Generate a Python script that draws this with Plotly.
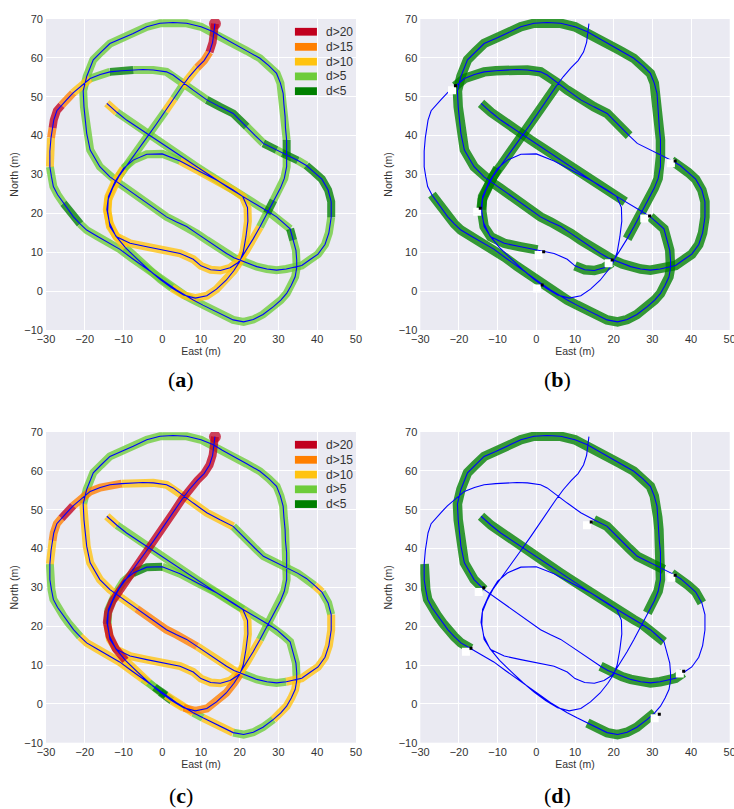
import plotly.graph_objects as go

# ---------------- data (East, North in metres), in driving order ----------------
seg_start_diag = [(13.6, 68.8), (13.4, 66.5), (13.0, 64.0), (12.2, 61.5), (10.8, 59.3), (9.0, 57.5),
                  (7.0, 55.2), (5.0, 52.5), (3.0, 49.5), (0.8, 46.3), (-1.5, 43.0), (-4.0, 39.5),
                  (-6.5, 36.0), (-9.0, 32.5), (-11.2, 29.5), (-12.8, 26.5), (-14.0, 23.5), (-14.3, 21.0)]
seg_south_run = [(-14.3, 21.0), (-13.6, 17.5), (-12.0, 14.2), (-9.5, 11.2), (-6.5, 8.3), (-3.5, 5.5),
                 (-0.5, 3.0), (2.5, 0.8), (5.5, -1.0), (8.5, -1.8), (11.5, -1.2), (14.0, 0.5),
                 (16.5, 2.8), (18.5, 5.3), (20.0, 7.6)]
seg_inner_loop = [(20.0, 7.6), (20.9, 10.0), (21.6, 14.0), (22.1, 18.0), (22.0, 21.5), (20.8, 24.3),
                  (18.3, 26.0), (14.0, 28.6), (9.7, 30.8), (4.6, 33.5), (0.0, 35.3), (-4.0, 35.2),
                  (-7.5, 33.7), (-10.0, 31.6), (-12.2, 28.1), (-13.9, 24.3), (-14.1, 20.5), (-13.5, 16.6),
                  (-11.8, 14.0), (-8.3, 12.3), (-4.0, 11.4), (0.3, 10.6), (4.6, 9.7), (8.0, 8.2),
                  (10.0, 6.5), (12.5, 5.5), (15.0, 5.3), (17.5, 6.0), (19.5, 7.3), (20.2, 8.2)]
seg_northeast_run = [(20.2, 8.2), (21.7, 10.5), (23.5, 13.5), (25.2, 16.5), (27.0, 20.0), (28.7, 23.4),
                     (30.5, 26.5), (31.5, 29.0), (32.1, 32.0), (32.1, 34.6)]
seg_outer_loop = [(32.1, 34.6), (32.1, 38.9), (31.8, 42.0), (31.7, 44.9), (31.4, 48.0), (31.2, 50.9),
                  (30.5, 53.5), (29.5, 56.0), (27.5, 58.0), (25.2, 59.9), (21.8, 61.8), (18.3, 63.7),
                  (15.5, 65.3), (13.2, 66.7), (10.0, 68.0), (6.3, 68.9), (2.8, 69.1), (-0.6, 68.9),
                  (-4.0, 68.0), (-7.5, 66.3), (-10.5, 65.0), (-13.5, 63.7), (-15.8, 61.5), (-17.8, 59.5),
                  (-19.5, 55.2), (-20.4, 51.5), (-20.2, 47.4), (-19.8, 44.0), (-19.5, 40.6), (-18.6, 36.3),
                  (-16.1, 32.0), (-13.5, 29.4)]
seg_middle_diag = [(-13.5, 29.4), (-11.5, 28.0), (-9.2, 26.4), (-6.6, 24.5), (-4.0, 22.6), (-1.5, 20.8),
                   (1.1, 19.1), (3.7, 17.8), (6.3, 16.6), (9.0, 14.8), (11.5, 13.1), (14.0, 11.4),
                   (16.6, 9.7), (18.5, 8.6), (20.0, 8.0), (22.2, 7.0), (24.4, 6.3), (27.0, 5.7),
                   (29.5, 5.4), (32.0, 5.7), (34.0, 6.1), (36.0, 6.6), (38.0, 8.0), (40.2, 9.5),
                   (42.0, 12.0), (43.0, 15.0), (43.6, 19.0), (43.6, 23.0), (42.8, 26.0), (41.2, 28.8),
                   (39.3, 30.5), (37.2, 32.3), (35.0, 33.6), (33.0, 34.6), (31.0, 35.5), (29.5, 36.3),
                   (27.6, 37.3), (26.1, 38.0), (24.0, 40.0), (21.8, 42.3), (18.3, 45.7), (14.9, 47.4)]
seg_upper_west = [(14.9, 47.4), (11.5, 49.2), (8.0, 51.7), (6.3, 53.0), (4.6, 54.3), (2.8, 55.6),
                  (1.1, 56.4), (-2.3, 56.9), (-5.0, 57.0), (-7.5, 56.9), (-10.5, 56.7), (-13.5, 56.4),
                  (-16.0, 55.7), (-18.6, 54.7), (-21.0, 52.7), (-23.0, 51.0), (-24.7, 49.2), (-26.0, 47.8),
                  (-27.2, 46.4), (-28.0, 44.0), (-28.3, 42.0), (-28.7, 39.5), (-29.0, 36.0), (-29.0, 32.0),
                  (-28.6, 29.5), (-28.1, 26.9), (-27.0, 24.8), (-25.5, 22.6), (-24.2, 20.8), (-22.9, 19.1),
                  (-21.2, 17.3), (-19.5, 15.7), (-16.9, 14.2)]
seg_final = [(-16.9, 14.2), (-14.0, 12.6), (-11.0, 10.8), (-8.0, 8.6), (-5.0, 6.4), (-2.0, 4.3),
             (1.0, 2.2), (3.7, 0.3), (6.0, -1.2), (8.0, -2.3), (10.5, -3.6), (13.2, -4.9),
             (15.8, -6.3), (18.3, -7.4), (21.0, -7.9), (23.5, -7.3), (26.0, -6.0), (28.7, -4.0),
             (30.6, -2.3), (32.1, -0.6), (33.3, 1.5), (34.3, 3.7), (34.7, 6.0), (34.7, 8.0),
             (34.5, 10.5), (33.8, 13.1), (33.0, 16.0), (31.2, 17.6), (29.5, 19.1), (27.3, 20.5),
             (25.2, 21.7), (23.0, 23.0), (20.9, 24.3), (18.7, 25.6), (16.6, 26.9), (14.0, 28.6),
             (11.5, 30.3), (8.9, 32.0), (6.3, 33.7), (3.7, 35.5), (1.1, 37.2), (-1.5, 38.9),
             (-4.0, 40.6), (-6.6, 42.3), (-9.2, 44.0), (-11.7, 46.0), (-14.3, 48.3)]

segments = [seg_start_diag, seg_south_run, seg_inner_loop, seg_northeast_run,
            seg_outer_loop, seg_middle_diag, seg_upper_west, seg_final]

# class of each stretch between consecutive points (R:d>20 O:d>15 Y:d>10 G:d>5 D:d<5 -:none)
class_a = ["RRROOYYGYGGGGGYYY",
           "YYYGGGGYYYYYYY",
           "YYYYYYYYY" + "GGGG" + "Y" * 16,
           "YYYGDGGGG",
           "D" + "G" * 30,
           "G" * 26 + "DDDDD" + "G" + "DD" + "G" + "DD" + "GG" + "DD",
           "DGGGGGGGGDDGGYYOORRROYYGGGGDDDGG",
           "G" * 25 + "D" + "G" * 19 + "Y"]
class_b = ["-" * 7 + "D" * 10,
           "-" * 14,
           "-" * 13 + "D" * 8 + "---" + "DDDD" + "-",
           "--" + "D" * 7,
           "D" * 31,
           "D" * 32 + "-" * 6 + "DDD",
           "D" * 14 + "-" * 12 + "D" * 6,
           "D" * 28 + "---" + "D" * 15]
class_c = ["R" * 17,
           "RRRYYGDYOOOOOO",
           "YYYYY" + "GGGGG" + "DD" + "GGGG" + "Y" * 13,
           "YYYGGGGGG",
           "G" * 25 + "Y" * 6,
           "YYYOOOOOOYYYYYGGGGGYYYYYYYYGGY" + "G" * 10 + "Y",
           "Y" * 10 + "O" * 5 + "RR" + "OOO" + "YY" + "G" * 8 + "YY",
           "YYYYGDYYYGYYYGGGGYYYYY" + "G" * 23 + "Y"]
class_d = ["-" * 17,
           "-" * 14,
           "-" * 29,
           "-----DDDD",
           "D" * 31,
           "-" * 12 + "D" * 10 + "-" * 6 + "D" * 4 + "-" + "D" * 8,
           "-" * 22 + "D" * 10,
           "-" * 11 + "D" * 7 + "-" * 8 + "D" * 20]

start_point = (13.6, 68.8)

gap_marks_b = [(-21.8, 51.7), (-15.3, 20.4), (0.6, 9.3), (18.7, 7.2), (0.2, 0.7), (27.9, 18.7), (34.8, 32.9)]
gap_ends_b = [(-20.9, 52.8), (-14.5, 21.3), (1.9, 10.1), (19.6, 8.0), (1.5, 1.6), (29.3, 19.3), (35.9, 33.5)]
gap_marks_d = [(13.1, 46.0), (-14.9, 28.8), (-18.2, 13.4), (37.1, 7.8), (30.6, -3.7), (34.9, 32.5)]
gap_ends_d = [(14.2, 46.8), (-13.6, 29.9), (-16.9, 14.3), (38.1, 8.4), (31.8, -2.7), (35.9, 33.1)]

legend_labels = ["d>20", "d>15", "d>10", "d>5", "d<5"]
legend_codes = ["R", "O", "Y", "G", "D"]
x_ticks = [-30, -20, -10, 0, 10, 20, 30, 40, 50]
y_ticks = [-10, 0, 10, 20, 30, 40, 50, 60, 70]
captions = ["a", "b", "c", "d"]

# ---------------- styling ----------------
COLORS = {"R": (193, 0, 30), "O": (255, 127, 0), "Y": (255, 195, 15), "G": (109, 204, 58), "D": (0, 128, 0)}
BG = "#EAEAF2"
TXT = "#333333"


def rgba(code, a):
    r, g, b = COLORS[code]
    return f"rgba({r},{g},{b},{a})"


def intervals(classes):
    out = []
    for seg, cls in zip(segments, classes):
        for j in range(len(seg) - 1):
            c = cls[j] if j < len(cls) else "-"
            out.append((seg[j], seg[j + 1], c))
    return out


def runs(ivs, code):
    xs, ys = [], []
    last_end = None
    for p0, p1, c in ivs:
        if c == code:
            if last_end != p0:
                if xs:
                    xs.append(None)
                    ys.append(None)
                xs.append(p0[0])
                ys.append(p0[1])
            xs.append(p1[0])
            ys.append(p1[1])
            last_end = p1
        else:
            last_end = None
    return xs, ys


path = []
for seg in segments:
    for p in seg:
        if not path or path[-1] != p:
            path.append(p)
path_x = [p[0] for p in path]
path_y = [p[1] for p in path]

fig = go.Figure()

panels = [("x", "y", class_a, 8, True, None, None),
          ("x2", "y2", class_b, 9.5, False, gap_marks_b, gap_ends_b),
          ("x3", "y3", class_c, 8, True, None, None),
          ("x4", "y4", class_d, 9.5, False, gap_marks_d, gap_ends_d)]

for xa, ya, cls, w, is_dist, marks, ends in panels:
    ivs = intervals(cls)
    for code in ["G", "D", "Y", "O", "R"]:
        xs, ys = runs(ivs, code)
        if not xs:
            continue
        fig.add_trace(go.Scatter(x=xs, y=ys, mode="lines", xaxis=xa, yaxis=ya,
                                 line=dict(color=rgba(code, 0.78), width=w),
                                 hoverinfo="skip", showlegend=False))
    if is_dist:
        fig.add_trace(go.Scatter(x=[start_point[0]], y=[start_point[1]], mode="markers",
                                 xaxis=xa, yaxis=ya, hoverinfo="skip", showlegend=False,
                                 marker=dict(size=12, color=rgba("R", 0.72), line=dict(width=0))))
    fig.add_trace(go.Scatter(x=path_x, y=path_y, mode="lines", xaxis=xa, yaxis=ya,
                             line=dict(color="#0000FF", width=1.1), hoverinfo="skip", showlegend=False))
    if marks:
        fig.add_trace(go.Scatter(x=[m[0] for m in marks], y=[m[1] for m in marks], mode="markers",
                                 xaxis=xa, yaxis=ya, hoverinfo="skip", showlegend=False,
                                 marker=dict(symbol="square", size=8, color="white", line=dict(width=0))))
        fig.add_trace(go.Scatter(x=[m[0] for m in ends], y=[m[1] for m in ends], mode="markers",
                                 xaxis=xa, yaxis=ya, hoverinfo="skip", showlegend=False,
                                 marker=dict(symbol="square", size=3, color="black", line=dict(width=0))))

XL = [0.06267, 0.48501]
XR = [0.57262, 0.99414]
YT = [0.59209, 0.97651]
YB = [0.08195, 0.46601]


def xaxis(dom, anchor):
    return dict(domain=dom, anchor=anchor, range=[-30, 50], tickvals=x_ticks,
                showgrid=True, gridcolor="white", gridwidth=1.2, zeroline=False, showline=False,
                ticks="", tickfont=dict(size=11, color=TXT), automargin=False,
                ticklabeloverflow="allow", ticklabelstandoff=1,
                title=dict(text="East (m)", font=dict(size=10.5, color=TXT), standoff=2))


def yaxis(dom, anchor):
    return dict(domain=dom, anchor=anchor, range=[-10, 70], tickvals=y_ticks,
                showgrid=True, gridcolor="white", gridwidth=1.2, zeroline=False, showline=False,
                ticks="", tickfont=dict(size=11, color=TXT), automargin=False,
                ticklabelstandoff=2,
                title=dict(text="North (m)", font=dict(size=10.5, color=TXT), standoff=3))


annotations = []
shapes = []
for xa, ya in [("x", "y"), ("x3", "y3")]:
    row_y = [0.959, 0.9105, 0.863, 0.8155, 0.768]
    for lab, code, yy in zip(legend_labels, legend_codes, row_y):
        shapes.append(dict(type="rect", xref=f"{xa} domain", yref=f"{ya} domain",
                           x0=0.803, x1=0.874, y0=yy - 0.0125, y1=yy + 0.0125,
                           fillcolor=rgba(code, 1), line=dict(width=0)))
        annotations.append(dict(xref=f"{xa} domain", yref=f"{ya} domain", x=0.898, y=yy,
                                text=lab, showarrow=False, xanchor="left", yanchor="middle",
                                font=dict(size=12, color=TXT)))

cap_pos = [(0.2466, 0.5303), (0.7602, 0.5303), (0.2466, 0.0173), (0.7602, 0.0173)]
for c, (cx, cy) in zip(captions, cap_pos):
    annotations.append(dict(xref="paper", yref="paper", x=cx, y=cy, text=f"(<b>{c}</b>)",
                            showarrow=False, xanchor="center", yanchor="middle",
                            font=dict(size=22, color="black", family="Liberation Serif")))

fig.update_layout(
    template="none",
    width=734, height=809,
    margin=dict(l=0, r=0, t=0, b=0),
    paper_bgcolor="white", plot_bgcolor=BG,
    font=dict(family="Liberation Sans, Arial, sans-serif", color=TXT),
    showlegend=False,
    xaxis=xaxis(XL, "y"), yaxis=yaxis(YT, "x"),
    xaxis2=xaxis(XR, "y2"), yaxis2=yaxis(YT, "x2"),
    xaxis3=xaxis(XL, "y3"), yaxis3=yaxis(YB, "x3"),
    xaxis4=xaxis(XR, "y4"), yaxis4=yaxis(YB, "x4"),
    annotations=annotations, shapes=shapes,
)

fig.write_html("out.html")
